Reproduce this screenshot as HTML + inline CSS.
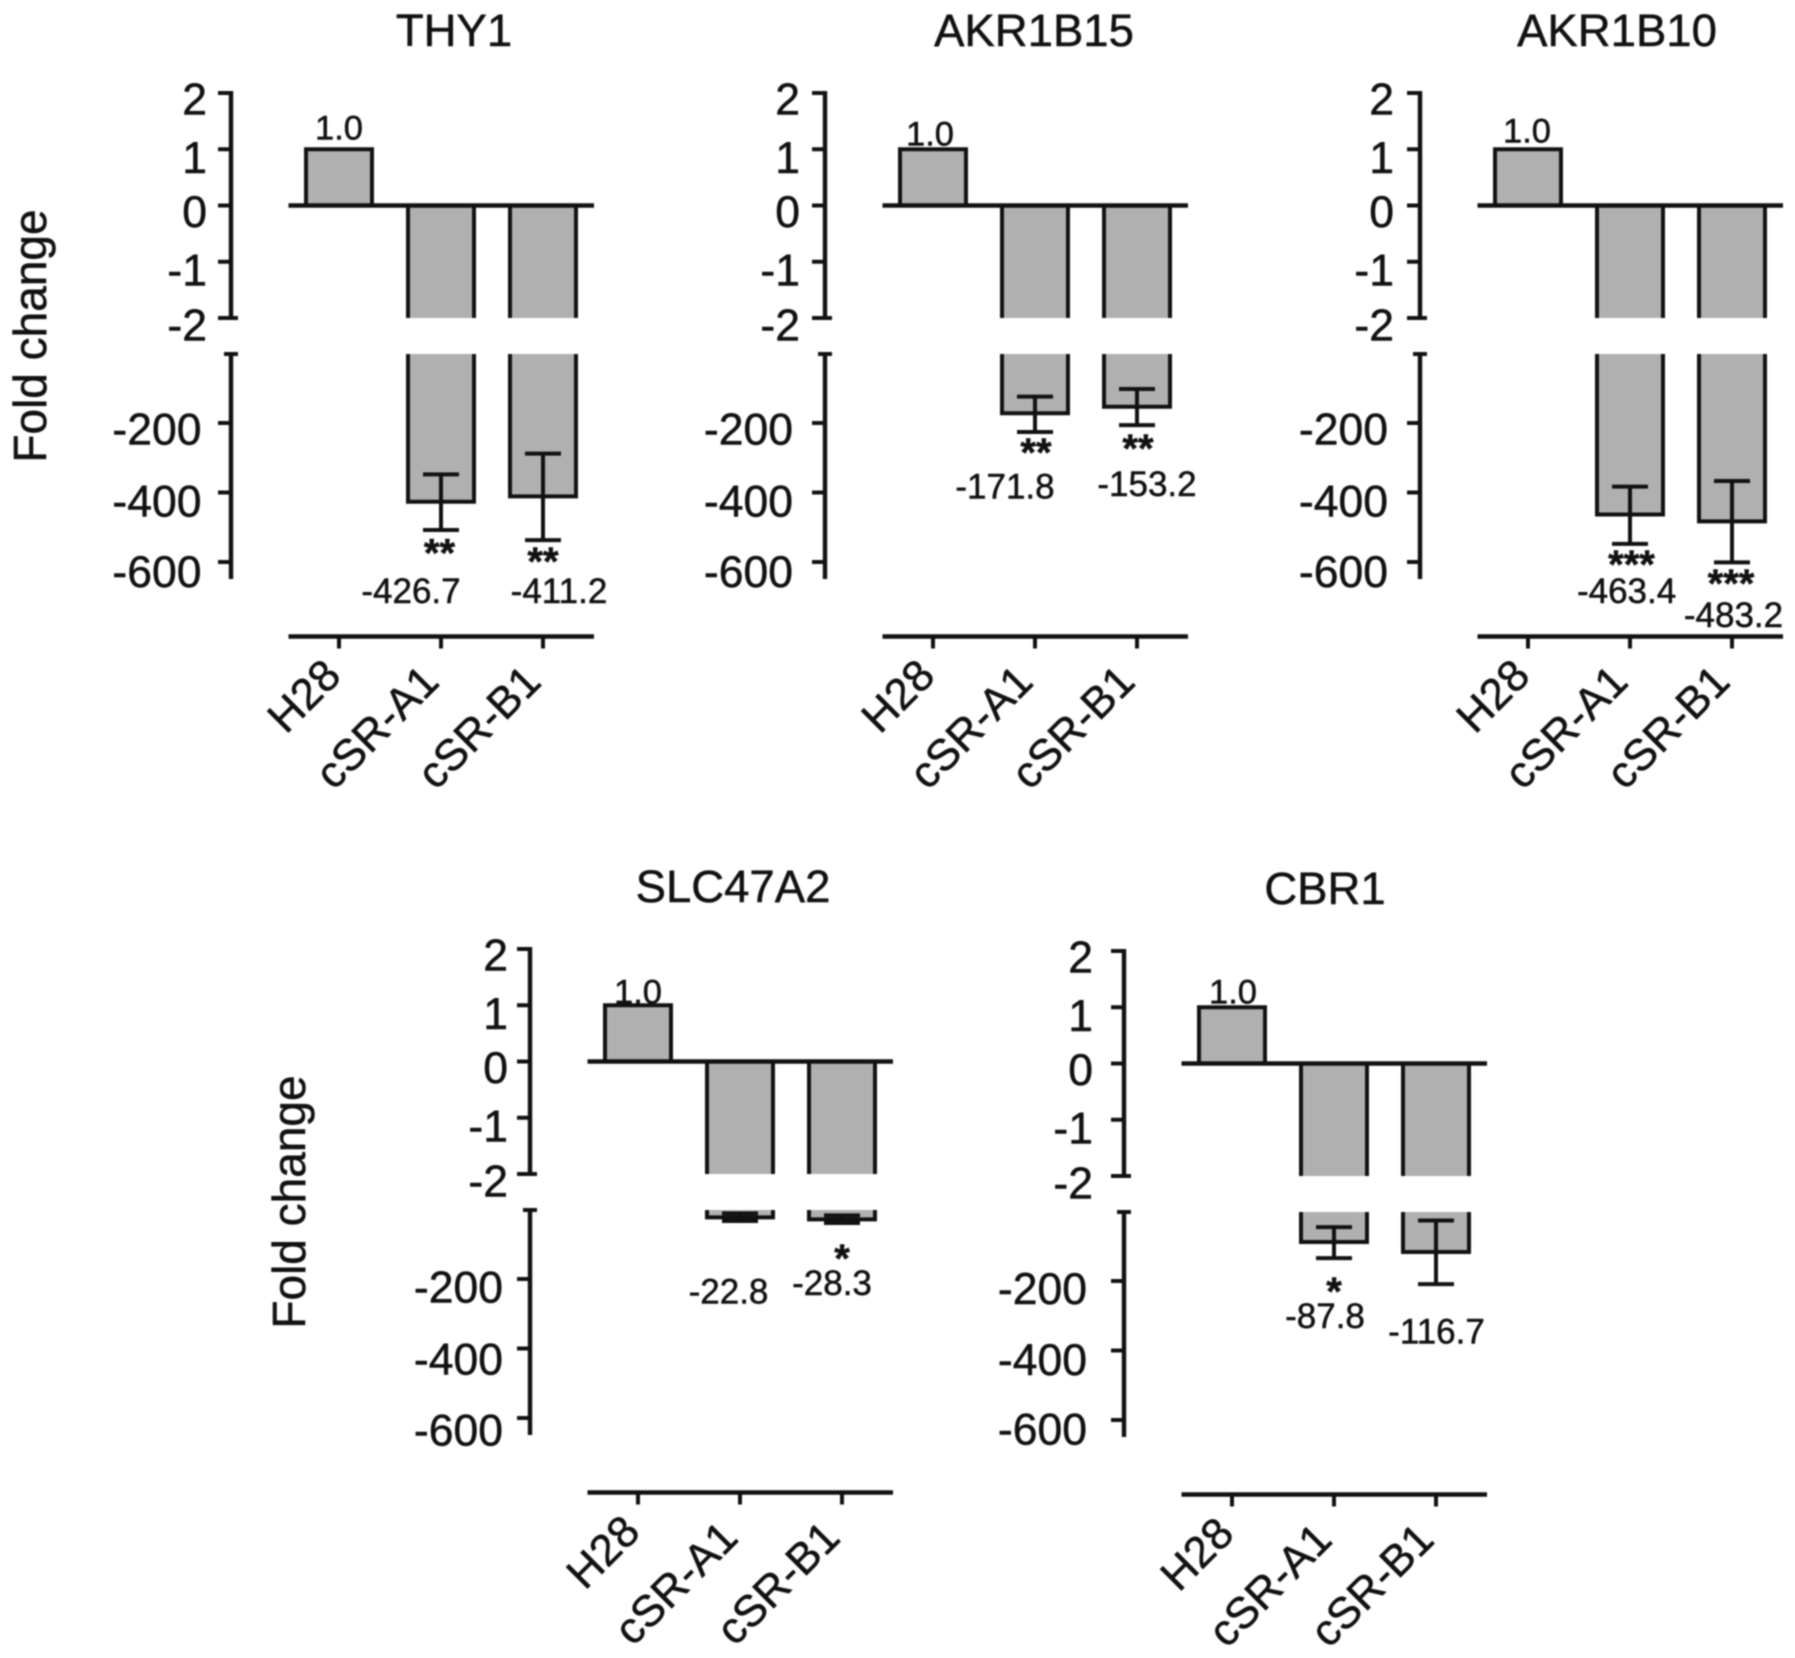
<!DOCTYPE html>
<html lang="en">
<head>
<meta charset="utf-8">
<title>Fold change bar charts</title>
<style>
  html, body { margin: 0; padding: 0; background: #fff; }
  svg { display: block; filter: blur(0.7px); }
  text { font-family: "Liberation Sans", Arial, sans-serif; fill: #111; stroke: #111; stroke-width: 0.5px; }
</style>
</head>
<body>
<svg id="figure" xmlns="http://www.w3.org/2000/svg" width="1795" height="1658" viewBox="0 0 1795 1658"></svg>
<script>
const categories = ['H28', 'cSR-A1', 'cSR-B1'];
const upperTicks = [2, 1, 0, -1, -2];
const lowerTicks = [-200, -400, -600];
const yAxisTitle = 'Fold change';

const thy1Values = [1.0, -426.7, -411.2];
const thy1ErrTop = [null, -348, -288];
const thy1ErrBottom = [null, -508, -537];
const thy1Stars = ['', '**', '**'];

const akr1b15Values = [1.0, -171.8, -153.2];
const akr1b15ErrTop = [null, -124, -102];
const akr1b15ErrBottom = [null, -226, -206];
const akr1b15Stars = ['', '**', '**'];

const akr1b10Values = [1.0, -463.4, -483.2];
const akr1b10ErrTop = [null, -383, -367];
const akr1b10ErrBottom = [null, -548, -601];
const akr1b10Stars = ['', '***', '***'];

const slc47a2Values = [1.0, -22.8, -28.3];
const slc47a2ErrTop = [null, -11, -17];
const slc47a2ErrBottom = [null, -33, -39];
const slc47a2Stars = ['', '', '*'];

const cbr1Values = [1.0, -87.8, -116.7];
const cbr1ErrTop = [null, -45, -26];
const cbr1ErrBottom = [null, -134, -209];
const cbr1Stars = ['', '*', ''];

const upperLabelNudge = [0, 2, 0, 2, 1];

const panels = [
  { key: 'thy1', title: 'THY1', values: thy1Values, errTop: thy1ErrTop, errBottom: thy1ErrBottom, stars: thy1Stars,
    layout: { tick0: 339, dy: 0, titleX: 454, upperGap: 24, lowerGap: 29.5, lowerNudge: [0, 2.5, 3.5],
      oneDx: 0, oneDy: -10, labelDx: [0, -30, 16], labelDy: [0, 73, 63], starDx: [0, -1.5, 0], starDy: [0, 18.6, 17] } },
  { key: 'akr1b15', title: 'AKR1B15', values: akr1b15Values, errTop: akr1b15ErrTop, errBottom: akr1b15ErrBottom, stars: akr1b15Stars,
    layout: { tick0: 933, dy: 0, titleX: 1034, upperGap: 25, lowerGap: 32, lowerNudge: [0, 2.5, 3.5],
      oneDx: -3, oneDy: -3.6, labelDx: [0, -30, 10], labelDy: [0, 66.5, 71], starDx: [0, 1, 1], starDy: [0, 16, 19] } },
  { key: 'akr1b10', title: 'AKR1B10', values: akr1b10Values, errTop: akr1b10ErrTop, errBottom: akr1b10ErrBottom, stars: akr1b10Stars,
    layout: { tick0: 1528, dy: 0, titleX: 1617, upperGap: 26, lowerGap: 32, lowerNudge: [0, 2.5, 3.5],
      oneDx: -1, oneDy: -7, labelDx: [0, -3.4, 1.5], labelDy: [0, 59, 64.6], starDx: [0, 1.5, -1], starDy: [0, 16, 16.6] } },
  { key: 'slc47a2', title: 'SLC47A2', values: slc47a2Values, errTop: slc47a2ErrTop, errBottom: slc47a2ErrBottom, stars: slc47a2Stars,
    layout: { tick0: 638, dy: 856, titleX: 733, upperGap: 22, lowerGap: 27, lowerNudge: [2, 4.5, 6],
      oneDx: 0, oneDy: -2, labelDx: [0, -11.5, -10], labelDy: [0, 82.6, 72], starDx: [0, 0, 0], starDy: [0, 0, 31] } },
  { key: 'cbr1', title: 'CBR1', values: cbr1Values, errTop: cbr1ErrTop, errBottom: cbr1ErrBottom, stars: cbr1Stars,
    layout: { tick0: 1232, dy: 858, titleX: 1325, upperGap: 31, lowerGap: 37, lowerNudge: [1.5, 3, 3],
      oneDx: 1, oneDy: -4, labelDx: [0, -9, 0.5], labelDy: [0, 70, 59.4], starDx: [0, 0, 0], starDy: [0, 29, 0] } }
];

const SVG_NS = 'http://www.w3.org/2000/svg';
const STROKE = '#111';
const FILL = '#b0b0b0';
const LW = 4;
const BAR_W = 66;
const STEP = 102;

function makeLine(parent, name, x1, y1, x2, y2, width) {
  const el = document.createElementNS(SVG_NS, 'line');
  
  
  el.setAttribute('x1', x1);
  el.setAttribute('y1', y1);
  el.setAttribute('x2', x2);
  el.setAttribute('y2', y2);
  el.setAttribute('stroke', STROKE);
  el.setAttribute('stroke-width', width || LW);
  parent.appendChild(el);
  return el;
}

function makeRect(parent, name, x, y, w, h) {
  const el = document.createElementNS(SVG_NS, 'rect');
  
  
  el.setAttribute('x', x);
  el.setAttribute('y', y);
  el.setAttribute('width', w);
  el.setAttribute('height', Math.max(0, h));
  el.setAttribute('fill', FILL);
  parent.appendChild(el);
  return el;
}

function makeText(parent, name, str, x, y, size, anchor, rotate) {
  const el = document.createElementNS(SVG_NS, 'text');
  
  
  el.setAttribute('x', x);
  el.setAttribute('y', y);
  el.setAttribute('font-size', size);
  el.setAttribute('text-anchor', anchor);
  if (rotate) {
    el.setAttribute('transform', 'rotate(' + rotate + ' ' + x + ' ' + y + ')');
  }
  el.textContent = str;
  parent.appendChild(el);
  return el;
}

function drawPanel(svg, panel) {
  const L = panel.layout;
  const group = document.createElementNS(SVG_NS, 'g');
  
  
  svg.appendChild(group);

  const yUpper = function (v) { return 205.5 + L.dy - v * 56.25; };
  const yLower = function (v) { return 353.5 + L.dy - v * 0.3475; };
  const xCat = function (i) { return L.tick0 + i * STEP; };
  const axisX = L.tick0 - 108;
  const breakBottom = yUpper(-2);
  const breakTop = yLower(0) + 0.5;
  const baseY = 636.5 + L.dy;

  makeText(group, panel.key + '-title', panel.title, L.titleX, 46 + L.dy, 45.5, 'middle');

  panel.values.forEach(function (v, i) {
    const cx = xCat(i);
    const left = cx - BAR_W / 2;
    const right = cx + BAR_W / 2;
    const name = panel.key + '-bar-' + categories[i].toLowerCase();
    if (v >= 0) {
      makeRect(group, name, left, yUpper(v), BAR_W, yUpper(0) - yUpper(v));
      makeLine(group, name + '-top-edge', left - LW / 2, yUpper(v), right + LW / 2, yUpper(v));
      makeLine(group, name + '-left-edge', left, yUpper(v), left, yUpper(0));
      makeLine(group, name + '-right-edge', right, yUpper(v), right, yUpper(0));
    } else {
      const upperEnd = yUpper(Math.max(v, -2));
      makeRect(group, name + '-upper', left, yUpper(0), BAR_W, upperEnd - yUpper(0));
      makeLine(group, name + '-upper-left-edge', left, yUpper(0), left, upperEnd);
      makeLine(group, name + '-upper-right-edge', right, yUpper(0), right, upperEnd);
      if (v < -2) {
        const lowerEnd = Math.max(yLower(v), breakTop);
        makeRect(group, name + '-lower', left, breakTop, BAR_W, lowerEnd - breakTop);
        makeLine(group, name + '-lower-left-edge', left, breakTop, left, lowerEnd);
        makeLine(group, name + '-lower-right-edge', right, breakTop, right, lowerEnd);
        makeLine(group, name + '-lower-bottom-edge', left - LW / 2, lowerEnd, right + LW / 2, lowerEnd);
      }
    }

    if (panel.errTop[i] !== null) {
      const t = yLower(panel.errTop[i]);
      const b = yLower(panel.errBottom[i]);
      const en = panel.key + '-error-' + categories[i].toLowerCase();
      makeLine(group, en + '-stem', cx, t, cx, b);
      makeLine(group, en + '-cap-top', cx - 18, t, cx + 18, t);
      makeLine(group, en + '-cap-bottom', cx - 18, b, cx + 18, b);

      if (panel.stars[i]) {
        const star = makeText(group, panel.key + '-significance-' + categories[i].toLowerCase(), panel.stars[i],
          cx + L.starDx[i], b + L.starDy[i] + 18, 40, 'middle');
        star.setAttribute('font-weight', 'bold');
      }
      makeText(group, panel.key + '-value-' + categories[i].toLowerCase(), v.toFixed(1),
        cx + L.labelDx[i], b + L.labelDy[i], 35, 'middle');
    } else {
      makeText(group, panel.key + '-value-' + categories[i].toLowerCase(), v.toFixed(1),
        cx + L.oneDx, yUpper(v) + L.oneDy, 34.5, 'middle');
    }
  });

  makeLine(group, panel.key + '-zero-line', L.tick0 - 50.5, yUpper(0), L.tick0 + 255, yUpper(0), 4.4);

  makeLine(group, panel.key + '-y-axis-upper', axisX, yUpper(2) - 2, axisX, breakBottom + 2, 4.4);
  upperTicks.forEach(function (t, k) {
    const y = yUpper(t);
    const endX = t === -2 ? axisX + 7 : axisX;
    makeLine(group, panel.key + '-y-tick-' + t, axisX - 13, y, endX, y);
    makeText(group, panel.key + '-y-label-' + t, String(t), axisX - L.upperGap, y + 21.5 + upperLabelNudge[k], 44.5, 'end');
  });

  makeLine(group, panel.key + '-y-axis-lower', axisX, breakTop - 2, axisX, 579 + L.dy, 4.4);
  makeLine(group, panel.key + '-y-axis-break-cap', axisX - 7, breakTop, axisX + 7, breakTop);
  lowerTicks.forEach(function (t, k) {
    const y = yLower(t);
    makeLine(group, panel.key + '-y-tick-' + t, axisX - 13, y, axisX, y);
    makeText(group, panel.key + '-y-label-' + t, String(t), axisX - L.lowerGap, y + 21.5 + L.lowerNudge[k], 44.5, 'end');
  });

  makeLine(group, panel.key + '-x-axis', L.tick0 - 50.5, baseY, L.tick0 + 255, baseY, 4.4);
  categories.forEach(function (c, i) {
    const cx = xCat(i);
    makeLine(group, panel.key + '-x-tick-' + c.toLowerCase(), cx, baseY, cx, baseY + 12);
    const ax = i === 0 ? cx + 4 : cx;
    const ay = (i === 0 ? 678 : 684) + L.dy;
    makeText(group, panel.key + '-x-label-' + c.toLowerCase(), c, ax, ay, 44, 'end', -45);
  });
}

const svg = document.getElementById('figure');

panels.forEach(function (p) { drawPanel(svg, p); });

makeText(svg, 'y-axis-title-top-row', yAxisTitle, 46, 336, 46, 'middle', -90);
makeText(svg, 'y-axis-title-bottom-row', yAxisTitle, 305, 1202, 46, 'middle', -90);
</script>
</body>
</html>
